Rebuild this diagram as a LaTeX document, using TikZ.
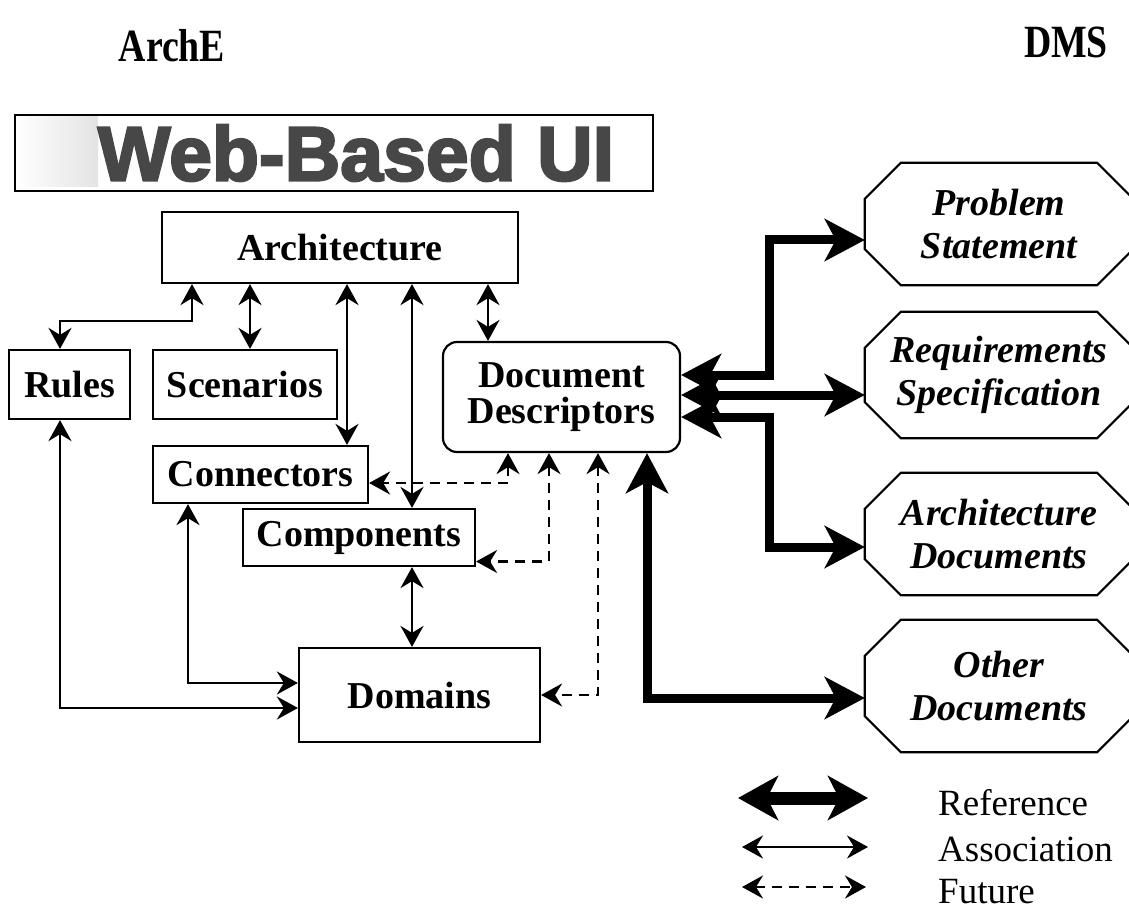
\documentclass[tikz,border=0pt]{standalone}
\usepackage{fontspec}
\setmainfont{Liberation Serif}
\newfontfamily\webfont[BoldFeatures={FakeBold=3}]{Liberation Sans}
\usetikzlibrary{arrows.meta,calc}
\tikzset{
  x=1pt, y=-1pt,
  box/.style={draw, line width=2.2pt, inner sep=0pt, align=center,
    font=\bfseries\fontsize{38}{36}\selectfont},
  octnode/.style={inner sep=0pt, minimum width=268pt, align=center,
    font=\bfseries\itshape\fontsize{38}{43}\selectfont},
  octline/.style={line width=2.2pt, line join=miter},
  tipS/.tip={Stealth[length=21pt,width=23pt,inset=7pt]},
  tipL/.tip={Stealth[length=40pt,width=42pt,inset=11pt]},
  assoc/.style={line width=2.5pt, tipS-tipS},
  fut/.style={line width=2.5pt, tipS-tipS, dash pattern=on 10pt off 7pt},
  refarr/.style={line width=9pt, tipL-tipL},
  title/.style={font=\bfseries\fontsize{42}{42}\selectfont, inner sep=0pt},
  legtext/.style={font=\fontsize{37}{37}\selectfont, inner sep=0pt, anchor=base west},
}
\newcommand\octshape[1]{%
  \draw[octline] ($(#1.north west)+(36,0)$) -- ($(#1.north east)+(-36,0)$)
    -- ($(#1.north east)+(0,36)$) -- ($(#1.south east)+(0,-36)$)
    -- ($(#1.south east)+(-36,0)$) -- ($(#1.south west)+(36,0)$)
    -- ($(#1.south west)+(0,-36)$) -- ($(#1.north west)+(0,36)$) -- cycle;}
\begin{document}
\begin{tikzpicture}
\useasboundingbox (0,0) rectangle (1129,909);
\clip (0,0) rectangle (1129,909);
\fill[white] (0,0) rectangle (1129,909);

% titles
\node[title] (arche) at (172,46) {\scalebox{0.9}[1.1]{ArchE}};
\node[title] (dms) at (1066,42) {\scalebox{0.9}[1.1]{DMS}};

% web-based UI banner
\shade[left color=white, right color=gray!22] (17,117) rectangle (98,187);
\node[draw, line width=2.2pt, minimum width=638pt, minimum height=76pt, inner sep=0pt, anchor=north west] (web) at (14,114) {};
\node[inner sep=0pt, text=black!72, font=\webfont\bfseries\fontsize{77}{77}\selectfont] (webtext) at (356,153) {Web-Based UI};

% ArchE boxes
\node[box, minimum width=356pt, minimum height=71pt] (arch) at (340,247.5) {Architecture};
\node[box, minimum width=121pt, minimum height=69pt] (rules) at (69.5,384.5) {Rules};
\node[box, minimum width=184pt, minimum height=69pt] (scen) at (245,384.5) {Scenarios};
\node[box, minimum width=215pt, minimum height=57pt] (conn) at (260.5,474.5) {Connectors};
\node[box, minimum width=232pt, minimum height=57pt] (comp) at (359,537.5) {Components};
\node[box, minimum width=241pt, minimum height=94pt] (dom) at (419.5,695) {Domains};
\node[box, rounded corners=14pt, minimum width=237pt, minimum height=110pt] (dd) at (561.5,397) {Document\\Descriptors};

% DMS octagons
\node[octnode, minimum height=122pt] (ps) at (999,224) {Problem\\Statement};
\node[octnode, minimum height=126pt] (rs) at (999,375) {Requirements\\Specification};
\node[octnode, minimum height=122pt] (ad) at (999,534) {Architecture\\Documents};
\node[octnode, minimum height=132pt] (od) at (999,686) {Other\\Documents};
\octshape{ps}
\octshape{rs}
\octshape{ad}
\octshape{od}

% associations from Architecture
\draw[assoc] ([xshift=-148pt]arch.south) -- ++(0,37) -| ([xshift=-9.5pt]rules.north);
\draw[assoc] ([xshift=-90pt]arch.south) -- ([xshift=-90pt]arch.south |- scen.north);
\draw[assoc] ([xshift=7pt]arch.south) -- ([xshift=7pt]arch.south |- conn.north);
\draw[assoc] ([xshift=72pt]arch.south) -- ([xshift=72pt]arch.south |- comp.north);
\draw[assoc] ([xshift=148pt]arch.south) -- ([xshift=148pt]arch.south |- dd.north);

% associations to Domains
\draw[assoc] ([xshift=-72.5pt]conn.south) |- ([yshift=12pt]dom.west);
\draw[assoc] ([xshift=-9.5pt]rules.south) |- ([yshift=-13pt]dom.west);
\draw[assoc] ([xshift=53pt]comp.south) -- ([xshift=53pt]comp.south |- dom.north);

% future links
\draw[fut] ([xshift=-53.5pt]dd.south) |- ([yshift=-8.5pt]conn.east);
\draw[fut] ([xshift=-12.5pt]dd.south) |- ([yshift=-24pt]comp.east);
\draw[fut] ([xshift=36.5pt]dd.south) |- (dom.east);

% references
\draw[refarr] ([xshift=85.5pt]dd.south) |- ([yshift=-12pt]od.west);
\draw[refarr] ([yshift=22pt]dd.east) -- ++(88,0) |- ([yshift=-16pt]ps.west);
\draw[refarr] ([yshift=2pt]dd.east) -- ([yshift=2pt]dd.east -| rs.west);
\draw[refarr] ([yshift=-20pt]dd.east) -- ++(88,0) |- ([yshift=-13pt]ad.west);

% legend
\coordinate (l1a) at (738,798); \coordinate (l1b) at (868,798);
\coordinate (l2a) at (742,847); \coordinate (l2b) at (868,847);
\coordinate (l3a) at (742,887); \coordinate (l3b) at (866,887);
\draw[line width=13pt, {Stealth[length=40pt,width=44pt,inset=11pt]}-{Stealth[length=40pt,width=44pt,inset=11pt]}] (l1a) -- (l1b);
\draw[assoc] (l2a) -- (l2b);
\draw[fut] (l3a) -- (l3b);
\node[legtext] (lref) at (938,815) {Reference};
\node[legtext] (lassoc) at (938,861) {Association};
\node[legtext] (lfut) at (938,903) {Future};
\end{tikzpicture}
\end{document}
